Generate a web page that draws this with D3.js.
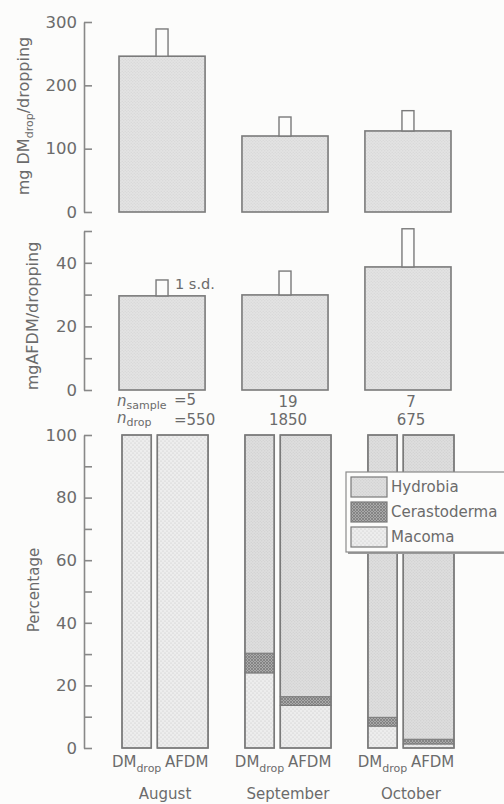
<!DOCTYPE html>
<html>
<head>
<meta charset="utf-8">
<script src="https://cdn.jsdelivr.net/npm/d3@7"></script>
<style>
  html, body { margin: 0; padding: 0; background: #fcfcfb; }
  svg { display: block; }
  text { font-family: "DejaVu Sans", "Liberation Sans", sans-serif; fill: #6b6b6b; }
</style>
</head>
<body>
<svg id="chart" width="504" height="804"></svg>
<script>
// Months sampled
const months = ["August", "September", "October"];

// Dry mass per dropping (mg) and one standard deviation
const dmMean = [246, 120, 128];
const dmSd = [43, 30, 32];

// Ash-free dry mass per dropping (mg) and one standard deviation
const afdmMean = [29.6, 29.9, 38.7];
const afdmSd = [5, 7.5, 12];

// Sample sizes
const nSample = [5, 19, 7];
const nDrop = [550, 1850, 675];

// Prey composition (%), two bars per month: DM_drop then AFDM
const compMonth = ["August", "August", "September", "September", "October", "October"];
const compKind = ["DM", "AFDM", "DM", "AFDM", "DM", "AFDM"];
const macoma = [100, 100, 24, 13.6, 7, 1.3];
const cerastoderma = [0, 0, 6.3, 2.8, 2.8, 1.5];
const hydrobia = [0, 0, 69.7, 83.6, 90.2, 97.2];

const species = ["Macoma", "Cerastoderma", "Hydrobia"];
const legendOrder = ["Hydrobia", "Cerastoderma", "Macoma"];

// Tick values for the three y axes
const dmTicks = [0, 100, 200, 300];
const afdmTicks = [0, 10, 20, 30, 40, 50];
const afdmLabels = [0, 20, 40];
const pctTicks = [0, 10, 20, 30, 40, 50, 60, 70, 80, 90, 100];
const pctLabels = [0, 20, 40, 60, 80, 100];

const svg = d3.select("#chart");
const ink = "#7a7a7a";
const axisX = 84;

// ---- fill patterns for the printed textures ----
const defs = svg.append("defs");
function dotPattern(id, bg, dot, step, r) {
  const p = defs.append("pattern").attr("id", id).attr("patternUnits", "userSpaceOnUse")
    .attr("width", step).attr("height", step);
  p.append("rect").attr("width", step).attr("height", step).attr("fill", bg);
  p.append("circle").attr("cx", step / 4).attr("cy", step / 4).attr("r", r).attr("fill", dot);
  p.append("circle").attr("cx", step * 3 / 4).attr("cy", step * 3 / 4).attr("r", r).attr("fill", dot);
}
dotPattern("texBar", "#e3e3e3", "#d2d2d2", 3, 0.6);
dotPattern("texHydrobia", "#dedede", "#cbcbcb", 3, 0.6);
dotPattern("texMacoma", "#ededed", "#c4c4c4", 4, 0.6);
(function () {
  const p = defs.append("pattern").attr("id", "texCerasto").attr("patternUnits", "userSpaceOnUse")
    .attr("width", 3).attr("height", 3);
  p.append("rect").attr("width", 3).attr("height", 3).attr("fill", "#a9a9a9");
  p.append("path").attr("d", "M0,0L3,3M3,0L0,3").attr("stroke", "#7c7c7c").attr("stroke-width", 0.8);
})();
const fillFor = { Hydrobia: "url(#texHydrobia)", Cerastoderma: "url(#texCerasto)", Macoma: "url(#texMacoma)" };

// ---- scales ----
const xTop = d3.scaleBand().domain(months).range([119, 451]).paddingInner(0.3).paddingOuter(0);
const xBot = d3.scaleBand().domain(months).range([122, 454]).paddingInner(0.3).paddingOuter(0);
const inner = d3.scaleLinear().domain([0, 1]).range([0, xBot.bandwidth()]);

const yDm = d3.scaleLinear().domain([0, 300]).range([212, 22]);
const yAfdm = d3.scaleLinear().domain([0, 50]).range([390, 231]);
const yPct = d3.scaleLinear().domain([0, 100]).range([748, 435]);

function drawAxis(scale, ticks, labels) {
  const g = svg.append("g").attr("transform", `translate(${axisX},0)`)
    .call(d3.axisLeft(scale).tickValues(ticks).tickSizeInner(-8).tickSizeOuter(0).tickPadding(7)
      .tickFormat(d => labels.includes(d) ? d : ""));
  g.selectAll("path, line").attr("stroke", "#888").attr("stroke-width", 1.6);
  g.selectAll("text").attr("font-size", 16.5).attr("fill", "#6f6f6f")
    .style("font-family", '"DejaVu Sans", sans-serif');
  return g;
}
drawAxis(yDm, dmTicks, dmTicks);
drawAxis(yAfdm, afdmTicks, afdmLabels);
drawAxis(yPct, pctTicks, pctLabels);

// ---- mean bars with s.d. boxes ----
function meanPanel(y, means, sds) {
  const g = svg.append("g");
  g.selectAll("rect.bar").data(months).join("rect").attr("class", "bar")
    .attr("x", d => xTop(d)).attr("width", xTop.bandwidth())
    .attr("y", (d, i) => y(means[i])).attr("height", (d, i) => y(0) - y(means[i]))
    .attr("fill", "url(#texBar)").attr("stroke", ink).attr("stroke-width", 1.6);
  g.selectAll("rect.sd").data(months).join("rect").attr("class", "sd")
    .attr("x", d => xTop(d) + xTop.bandwidth() / 2 - 6).attr("width", 12)
    .attr("y", (d, i) => y(means[i] + sds[i])).attr("height", (d, i) => y(means[i]) - y(means[i] + sds[i]))
    .attr("fill", "#fcfcfb").attr("stroke", ink).attr("stroke-width", 1.4);
}
meanPanel(yDm, dmMean, dmSd);
meanPanel(yAfdm, afdmMean, afdmSd);

svg.append("text").attr("x", xTop("August") + xTop.bandwidth() / 2 + 13)
  .attr("y", yAfdm(afdmMean[0] + afdmSd[0]) + 9).attr("font-size", 14.5).text("1 s.d.");

// ---- sample sizes ----
const nG = svg.append("g").attr("font-size", 15);
const n1 = nG.append("text").attr("x", 117).attr("y", 406);
n1.append("tspan").attr("font-style", "italic").text("n");
n1.append("tspan").attr("font-size", 11).attr("dy", 3).text("sample");
nG.append("text").attr("x", 174).attr("y", 405).text("=" + nSample[0]);
const n2 = nG.append("text").attr("x", 117).attr("y", 423);
n2.append("tspan").attr("font-style", "italic").text("n");
n2.append("tspan").attr("font-size", 11).attr("dy", 3).text("drop");
nG.append("text").attr("x", 174).attr("y", 425).text("=" + nDrop[0]);
months.slice(1).forEach((m, j) => {
  const cx = xTop(m) + xTop.bandwidth() / 2 + 3;
  nG.append("text").attr("x", cx).attr("y", 407).attr("text-anchor", "middle").text(nSample[j + 1]);
  nG.append("text").attr("x", cx).attr("y", 425).attr("text-anchor", "middle").text(nDrop[j + 1]);
});

// ---- composition stacked bars ----
const rows = compMonth.map((m, i) => ({
  month: m, kind: compKind[i],
  Macoma: macoma[i], Cerastoderma: cerastoderma[i], Hydrobia: hydrobia[i]
}));
const stack = d3.stack().keys(species)(rows);
function barX(r) { return xBot(r.month) + (r.kind === "DM" ? inner(0) : inner(0.41)); }
function barW(r) { return r.kind === "DM" ? inner(0.34) - inner(0) : inner(1) - inner(0.41); }

const sg = svg.append("g");
stack.forEach(layer => {
  sg.selectAll(null).data(layer.filter(s => s[1] - s[0] > 0)).join("rect")
    .attr("x", s => barX(s.data)).attr("width", s => barW(s.data))
    .attr("y", s => yPct(s[1])).attr("height", s => yPct(s[0]) - yPct(s[1]))
    .attr("fill", fillFor[layer.key]).attr("stroke", ink).attr("stroke-width", 1);
});
// outer outlines
sg.selectAll(null).data(rows).join("rect")
  .attr("x", r => barX(r)).attr("width", r => barW(r))
  .attr("y", yPct(100)).attr("height", yPct(0) - yPct(100))
  .attr("fill", "none").attr("stroke", ink).attr("stroke-width", 1.6);

// bar labels
const lg = svg.append("g").attr("font-size", 15);
rows.forEach(r => {
  const t = lg.append("text").attr("x", barX(r) + barW(r) / 2 + (r.kind === "DM" ? 0 : 4))
    .attr("y", 767).attr("text-anchor", "middle");
  if (r.kind === "DM") {
    t.append("tspan").text("DM");
    t.append("tspan").attr("font-size", 11).attr("dy", 5).text("drop");
  } else {
    t.text("AFDM");
  }
});
months.forEach(m => {
  lg.append("text").attr("x", xBot(m) + xBot.bandwidth() / 2).attr("y", 799)
    .attr("text-anchor", "middle").text(m);
});

// ---- legend ----
const leg = svg.append("g");
leg.append("rect").attr("x", 348).attr("y", 474).attr("width", 170).attr("height", 80).attr("fill", "#9a9a9a");
leg.append("rect").attr("x", 346).attr("y", 472).attr("width", 170).attr("height", 80)
  .attr("fill", "#fcfcfb").attr("stroke", "#8a8a8a").attr("stroke-width", 1.2);
legendOrder.forEach((s, i) => {
  leg.append("rect").attr("x", 351).attr("y", 477 + i * 25).attr("width", 36).attr("height", 20)
    .attr("fill", fillFor[s]).attr("stroke", ink).attr("stroke-width", 1.2);
  leg.append("text").attr("x", 391).attr("y", 492 + i * 25).attr("font-size", 15).text(s);
});

// ---- y axis titles ----
const t1 = svg.append("text").attr("transform", "translate(29,116) rotate(-90)")
  .attr("text-anchor", "middle").attr("font-size", 16);
t1.append("tspan").text("mg DM");
t1.append("tspan").attr("font-size", 11).attr("dy", 4).text("drop");
t1.append("tspan").attr("dy", -4).text("/dropping");

svg.append("text").attr("transform", "translate(38,316) rotate(-90)")
  .attr("text-anchor", "middle").attr("font-size", 16).text("mgAFDM/dropping");

svg.append("text").attr("transform", "translate(39,590) rotate(-90)")
  .attr("text-anchor", "middle").attr("font-size", 15).text("Percentage");
</script>
</body>
</html>
